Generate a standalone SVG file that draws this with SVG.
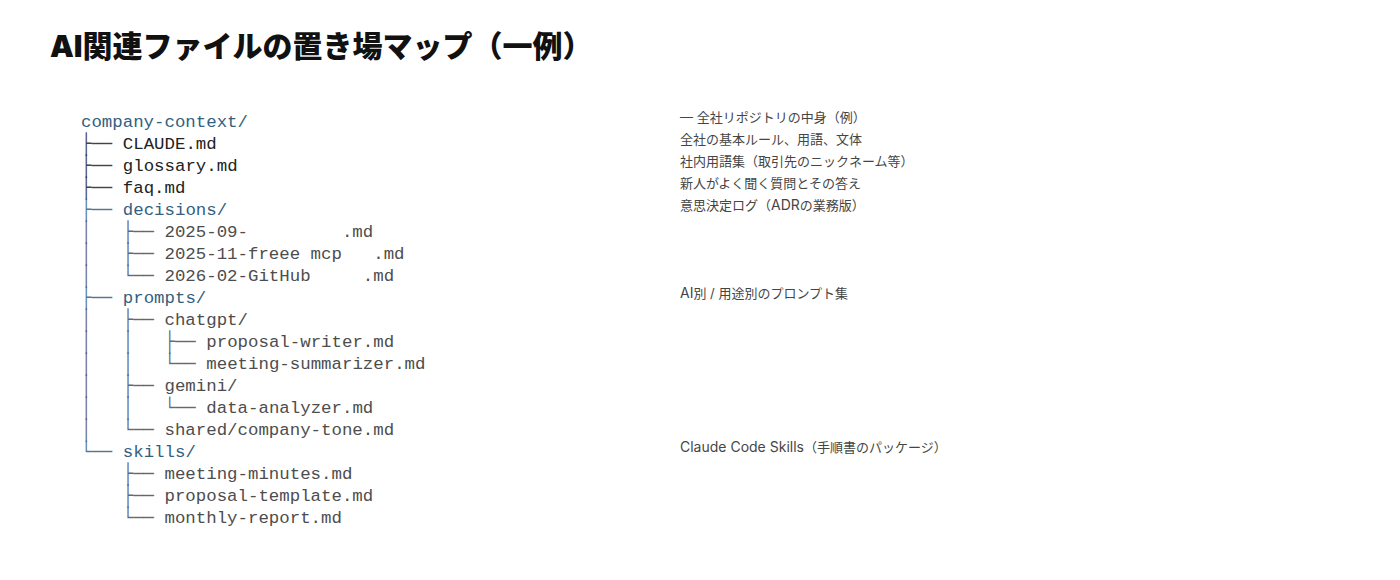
<svg xmlns="http://www.w3.org/2000/svg" width="1400" height="580" viewBox="0 0 1400 580">
<style>
.bg{fill:#ffffff}
.title{font-family:Inter,"Noto Sans CJK JP",sans-serif;font-size:30px;font-weight:900;fill:#111111;letter-spacing:0px}
.t{font-family:"Liberation Mono",monospace;font-size:17.4px;white-space:pre}
.br{fill-opacity:0.85}
.dir{fill:#33607f}
.f1{fill:#222222}
.f2{fill:#4d4d4d}
.note{font-family:Inter,"Noto Sans CJK JP",sans-serif;font-size:13px;fill:#454545}
.lat{font-size:14px}
</style>
<rect class="bg" x="0" y="0" width="1400" height="580"/>
<g id="title"><text class="title" x="50" y="57">AI関連ファイルの置き場マップ（一例）</text></g>
<g id="tree">
<g id="n-root"><text class="t dir" x="81" y="127">company-context/</text></g>
<g id="n-claude"><text class="t f1 br" x="81" y="149" transform="matrix(1 0 0 1.21 0 -30.03)" xml:space="preserve">├──</text><text class="t f1" x="122.8" y="149">CLAUDE.md</text></g>
<g id="n-glossary"><text class="t f1 br" x="81" y="171" transform="matrix(1 0 0 1.21 0 -34.65)" xml:space="preserve">├──</text><text class="t f1" x="122.8" y="171">glossary.md</text></g>
<g id="n-faq"><text class="t f1 br" x="81" y="193" transform="matrix(1 0 0 1.21 0 -39.27)" xml:space="preserve">├──</text><text class="t f1" x="122.8" y="193">faq.md</text></g>
<g id="n-decisions"><text class="t dir br" x="81" y="215" transform="matrix(1 0 0 1.21 0 -43.89)" xml:space="preserve">├──</text><text class="t dir" x="122.8" y="215">decisions/</text></g>
<g id="n-d1"><text class="t f2 br" x="81" y="237" transform="matrix(1 0 0 1.21 0 -48.51)" xml:space="preserve">│   ├──</text><text class="t f2" x="164.5" y="237" xml:space="preserve">2025-09-         .md</text></g>
<g id="n-d2"><text class="t f2 br" x="81" y="259" transform="matrix(1 0 0 1.21 0 -53.13)" xml:space="preserve">│   ├──</text><text class="t f2" x="164.5" y="259" xml:space="preserve">2025-11-freee mcp   .md</text></g>
<g id="n-d3"><text class="t f2 br" x="81" y="281" transform="matrix(1 0 0 1.21 0 -57.75)" xml:space="preserve">│   └──</text><text class="t f2" x="164.5" y="281" xml:space="preserve">2026-02-GitHub     .md</text></g>
<g id="n-prompts"><text class="t dir br" x="81" y="303" transform="matrix(1 0 0 1.21 0 -62.37)" xml:space="preserve">├──</text><text class="t dir" x="122.8" y="303">prompts/</text></g>
<g id="n-chatgpt"><text class="t f2 br" x="81" y="325" transform="matrix(1 0 0 1.21 0 -66.99)" xml:space="preserve">│   ├──</text><text class="t f2" x="164.5" y="325">chatgpt/</text></g>
<g id="n-pw"><text class="t f2 br" x="81" y="347" transform="matrix(1 0 0 1.21 0 -71.61)" xml:space="preserve">│   │   ├──</text><text class="t f2" x="206.3" y="347">proposal-writer.md</text></g>
<g id="n-ms"><text class="t f2 br" x="81" y="369" transform="matrix(1 0 0 1.21 0 -76.23)" xml:space="preserve">│   │   └──</text><text class="t f2" x="206.3" y="369">meeting-summarizer.md</text></g>
<g id="n-gemini"><text class="t f2 br" x="81" y="391" transform="matrix(1 0 0 1.21 0 -80.85)" xml:space="preserve">│   ├──</text><text class="t f2" x="164.5" y="391">gemini/</text></g>
<g id="n-da"><text class="t f2 br" x="81" y="413" transform="matrix(1 0 0 1.21 0 -85.47)" xml:space="preserve">│   │   └──</text><text class="t f2" x="206.3" y="413">data-analyzer.md</text></g>
<g id="n-shared"><text class="t f2 br" x="81" y="435" transform="matrix(1 0 0 1.21 0 -90.09)" xml:space="preserve">│   └──</text><text class="t f2" x="164.5" y="435">shared/company-tone.md</text></g>
<g id="n-skills"><text class="t dir br" x="81" y="457" transform="matrix(1 0 0 1.21 0 -94.71)" xml:space="preserve">└──</text><text class="t dir" x="122.8" y="457">skills/</text></g>
<g id="n-mm"><text class="t f2 br" x="81" y="479" transform="matrix(1 0 0 1.21 0 -99.33)" xml:space="preserve">    ├──</text><text class="t f2" x="164.5" y="479">meeting-minutes.md</text></g>
<g id="n-pt"><text class="t f2 br" x="81" y="501" transform="matrix(1 0 0 1.21 0 -103.95)" xml:space="preserve">    ├──</text><text class="t f2" x="164.5" y="501">proposal-template.md</text></g>
<g id="n-mr"><text class="t f2 br" x="81" y="523" transform="matrix(1 0 0 1.21 0 -108.57)" xml:space="preserve">    └──</text><text class="t f2" x="164.5" y="523">monthly-report.md</text></g>
</g>
<g id="notes">
<text class="note" x="680" y="122">— 全社リポジトリの中身（例）</text>
<text class="note" x="680" y="144">全社の基本ルール、用語、文体</text>
<text class="note" x="680" y="166">社内用語集（取引先のニックネーム等）</text>
<text class="note" x="680" y="188">新人がよく聞く質問とその答え</text>
<text class="note" x="680" y="210">意思決定ログ（<tspan class="lat">ADR</tspan>の業務版）</text>
<text class="note" x="680" y="298"><tspan class="lat">AI</tspan>別 / 用途別のプロンプト集</text>
<text class="note" x="680" y="452"><tspan class="lat">Claude Code Skills</tspan>（手順書のパッケージ）</text>
</g>
</svg>
